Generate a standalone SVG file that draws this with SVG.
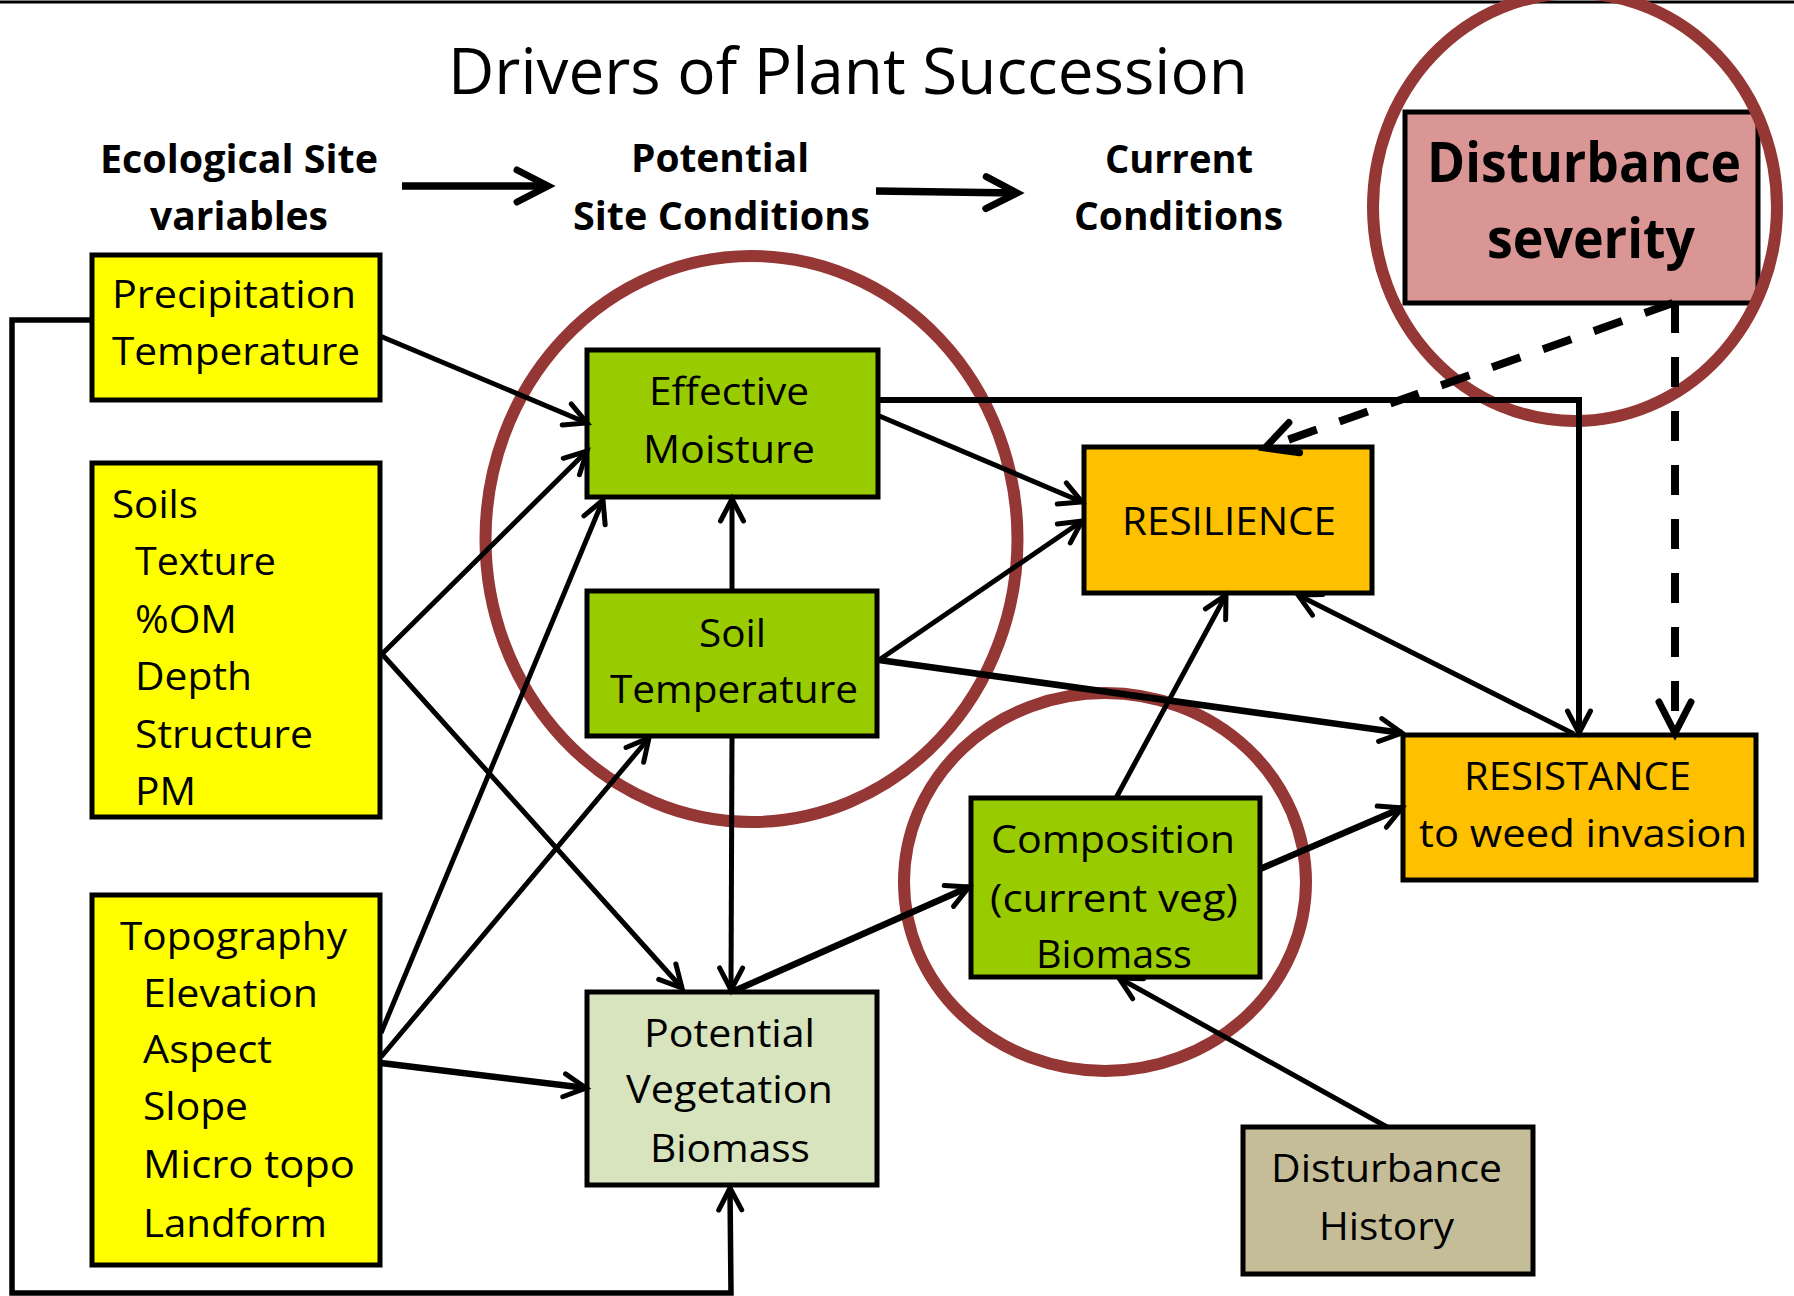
<svg xmlns="http://www.w3.org/2000/svg" width="1794" height="1296" viewBox="0 0 1794 1296">
<defs>
<style>
.t{font-family:"Open Sans","Liberation Sans",sans-serif;font-size:39px;fill:#000}
.hb{font-family:"Open Sans","Liberation Sans",sans-serif;font-size:40px;font-weight:700;fill:#000}
.title{font-family:"Open Sans","Liberation Sans",sans-serif;font-size:64px;font-weight:400;fill:#000}
.box{stroke:#000;stroke-width:5}
.yel{fill:#FFFF00}.grn{fill:#99CC00}.org{fill:#FFC000}
.c{fill:none;stroke:#000;stroke-width:5;marker-end:url(#ah)}
.ck{fill:none;stroke:#000;stroke-width:6.5;marker-end:url(#ah)}
.top{fill:none;stroke:#000;stroke-width:7.5;marker-end:url(#ahb)}
.d{fill:none;stroke:#000;stroke-width:8;stroke-dasharray:30 24;marker-end:url(#ahb)}
.ring{fill:none;stroke:#953735;stroke-width:12}
</style>
<marker id="ah" markerUnits="userSpaceOnUse" markerWidth="34" markerHeight="34" viewBox="-5 -5 34 34" refX="22" refY="11.5" orient="auto">
<path d="M0,0 L22,11.5 L0,23" fill="none" stroke="#000" stroke-width="5" stroke-linecap="round" stroke-linejoin="miter" stroke-dasharray="none"/>
</marker>
<marker id="ahb" markerUnits="userSpaceOnUse" markerWidth="46" markerHeight="46" viewBox="-6 -6 46 46" refX="31" refY="16" orient="auto">
<path d="M0,0 L31,16 L0,32" fill="none" stroke="#000" stroke-width="7" stroke-linecap="round" stroke-linejoin="miter" stroke-dasharray="none"/>
</marker>
</defs>
<rect x="0" y="0" width="1794" height="1296" fill="#fff"/>
<line x1="0" y1="2" x2="1794" y2="2" stroke="#000" stroke-width="3"/>

<g id="title">
<text class="title" x="448" y="94" textLength="800" lengthAdjust="spacingAndGlyphs">Drivers of Plant Succession</text>
</g>
<g id="header-ecological">
<text class="hb" x="100" y="173" textLength="278" lengthAdjust="spacingAndGlyphs">Ecological Site</text>
<text class="hb" x="150" y="230" textLength="178" lengthAdjust="spacingAndGlyphs">variables</text>
</g>
<g id="header-potential">
<text class="hb" x="631" y="172" textLength="178" lengthAdjust="spacingAndGlyphs">Potential</text>
<text class="hb" x="573" y="230" textLength="297" lengthAdjust="spacingAndGlyphs">Site Conditions</text>
</g>
<g id="header-current">
<text class="hb" x="1105" y="173" textLength="148" lengthAdjust="spacingAndGlyphs">Current</text>
<text class="hb" x="1074" y="230" textLength="209" lengthAdjust="spacingAndGlyphs">Conditions</text>
</g>

<g id="precipitation">
<rect class="box yel" x="92" y="255" width="288" height="145"/>
<text class="t" x="112" y="308" textLength="244" lengthAdjust="spacingAndGlyphs">Precipitation</text>
<text class="t" x="112" y="365" textLength="248" lengthAdjust="spacingAndGlyphs">Temperature</text>
</g>
<g id="soils">
<rect class="box yel" x="92" y="463" width="288" height="354"/>
<text class="t" x="112" y="518" textLength="86" lengthAdjust="spacingAndGlyphs">Soils</text>
<text class="t" x="135" y="575" textLength="141" lengthAdjust="spacingAndGlyphs">Texture</text>
<text class="t" x="135" y="633" textLength="102" lengthAdjust="spacingAndGlyphs">%OM</text>
<text class="t" x="135" y="690" textLength="117" lengthAdjust="spacingAndGlyphs">Depth</text>
<text class="t" x="135" y="748" textLength="178" lengthAdjust="spacingAndGlyphs">Structure</text>
<text class="t" x="135" y="805" textLength="61" lengthAdjust="spacingAndGlyphs">PM</text>
</g>
<g id="topography">
<rect class="box yel" x="92" y="895" width="288" height="370"/>
<text class="t" x="120" y="950" textLength="227" lengthAdjust="spacingAndGlyphs">Topography</text>
<text class="t" x="143" y="1007" textLength="175" lengthAdjust="spacingAndGlyphs">Elevation</text>
<text class="t" x="143" y="1063" textLength="129" lengthAdjust="spacingAndGlyphs">Aspect</text>
<text class="t" x="143" y="1120" textLength="105" lengthAdjust="spacingAndGlyphs">Slope</text>
<text class="t" x="143" y="1178" textLength="212" lengthAdjust="spacingAndGlyphs">Micro topo</text>
<text class="t" x="143" y="1237" textLength="184" lengthAdjust="spacingAndGlyphs">Landform</text>
</g>
<g id="effective-moisture">
<rect class="box grn" x="587" y="350" width="291" height="147"/>
<text class="t" x="649" y="405" textLength="160" lengthAdjust="spacingAndGlyphs">Effective</text>
<text class="t" x="643" y="463" textLength="172" lengthAdjust="spacingAndGlyphs">Moisture</text>
</g>
<g id="soil-temperature">
<rect class="box grn" x="587" y="591" width="290" height="145"/>
<text class="t" x="699" y="647" textLength="67" lengthAdjust="spacingAndGlyphs">Soil</text>
<text class="t" x="610" y="703" textLength="248" lengthAdjust="spacingAndGlyphs">Temperature</text>
</g>
<g id="potential-vegetation">
<rect class="box" x="587" y="992" width="290" height="193" fill="#D7E4BD"/>
<text class="t" x="644" y="1047" textLength="171" lengthAdjust="spacingAndGlyphs">Potential</text>
<text class="t" x="626" y="1103" textLength="207" lengthAdjust="spacingAndGlyphs">Vegetation</text>
<text class="t" x="650" y="1162" textLength="160" lengthAdjust="spacingAndGlyphs">Biomass</text>
</g>
<g id="resilience">
<rect class="box org" x="1084" y="447" width="288" height="146"/>
<text class="t" x="1122" y="535" textLength="214" lengthAdjust="spacingAndGlyphs">RESILIENCE</text>
</g>
<g id="resistance">
<rect class="box org" x="1403" y="735" width="353" height="145"/>
<text class="t" x="1464" y="790" textLength="227" lengthAdjust="spacingAndGlyphs">RESISTANCE</text>
<text class="t" x="1419" y="847" textLength="328" lengthAdjust="spacingAndGlyphs">to weed invasion</text>
</g>
<g id="composition">
<rect class="box grn" x="971" y="798" width="289" height="179"/>
<text class="t" x="991" y="853" textLength="244" lengthAdjust="spacingAndGlyphs">Composition</text>
<text class="t" x="990" y="912" textLength="248" lengthAdjust="spacingAndGlyphs">(current veg)</text>
<text class="t" x="1036" y="968" textLength="156" lengthAdjust="spacingAndGlyphs">Biomass</text>
</g>
<g id="disturbance-history">
<rect class="box" x="1243" y="1127" width="290" height="147" fill="#C4BD97"/>
<text class="t" x="1271" y="1182" textLength="231" lengthAdjust="spacingAndGlyphs">Disturbance</text>
<text class="t" x="1319" y="1240" textLength="135" lengthAdjust="spacingAndGlyphs">History</text>
</g>
<g id="disturbance-severity">
<rect class="box" x="1405" y="112" width="353" height="191" fill="#D99694"/>
<text class="hb" style="font-size:56px" x="1427" y="182" textLength="314" lengthAdjust="spacingAndGlyphs">Disturbance</text>
<text class="hb" style="font-size:56px" x="1487" y="258" textLength="208" lengthAdjust="spacingAndGlyphs">severity</text>
</g>

<g id="highlights">
<ellipse class="ring" cx="751.5" cy="539" rx="266" ry="283"/>
<ellipse class="ring" cx="1105" cy="882" rx="201" ry="189"/>
<ellipse class="ring" cx="1575" cy="207" rx="202" ry="214"/>
</g>

<g id="connectors">
<path class="top" d="M402,186 L548,186"/>
<path class="top" d="M876,191 L1017,193"/>
<path class="c" d="M380,336 L587,423"/>
<path class="c" d="M382,654 L587,451"/>
<path class="c" d="M382,654 L682,988"/>
<path class="c" d="M381,1033 L603,500"/>
<path class="c" d="M381,1057 L649,738"/>
<path class="ck" d="M381,1063 L586,1088"/>
<path class="c" d="M732,591 L732,499"/>
<path class="c" d="M732,736 L731,990"/>
<path class="ck" d="M734,991 L969,887"/>
<path class="c" d="M877,415 L1082,502"/>
<path class="c" style="stroke-width:6" d="M877,400 L1579,400 L1579,733"/>
<path class="c" d="M879,660 L1082,521"/>
<path class="ck" d="M879,660 L1402,733"/>
<path class="c" d="M1116,798 L1226,595"/>
<path class="c" d="M1574,734 L1298,595"/>
<path class="ck" d="M1260,869 L1402,808"/>
<path class="c" d="M1387,1127 L1119,978"/>
<path class="c" style="stroke-width:5.5" d="M92,320 L12,320 L12,1293 L731,1293 L730,1188"/>
<path class="d" d="M1673,303 L1265,448"/>
<path class="d" d="M1675,303 L1675,733"/>
</g>
</svg>
